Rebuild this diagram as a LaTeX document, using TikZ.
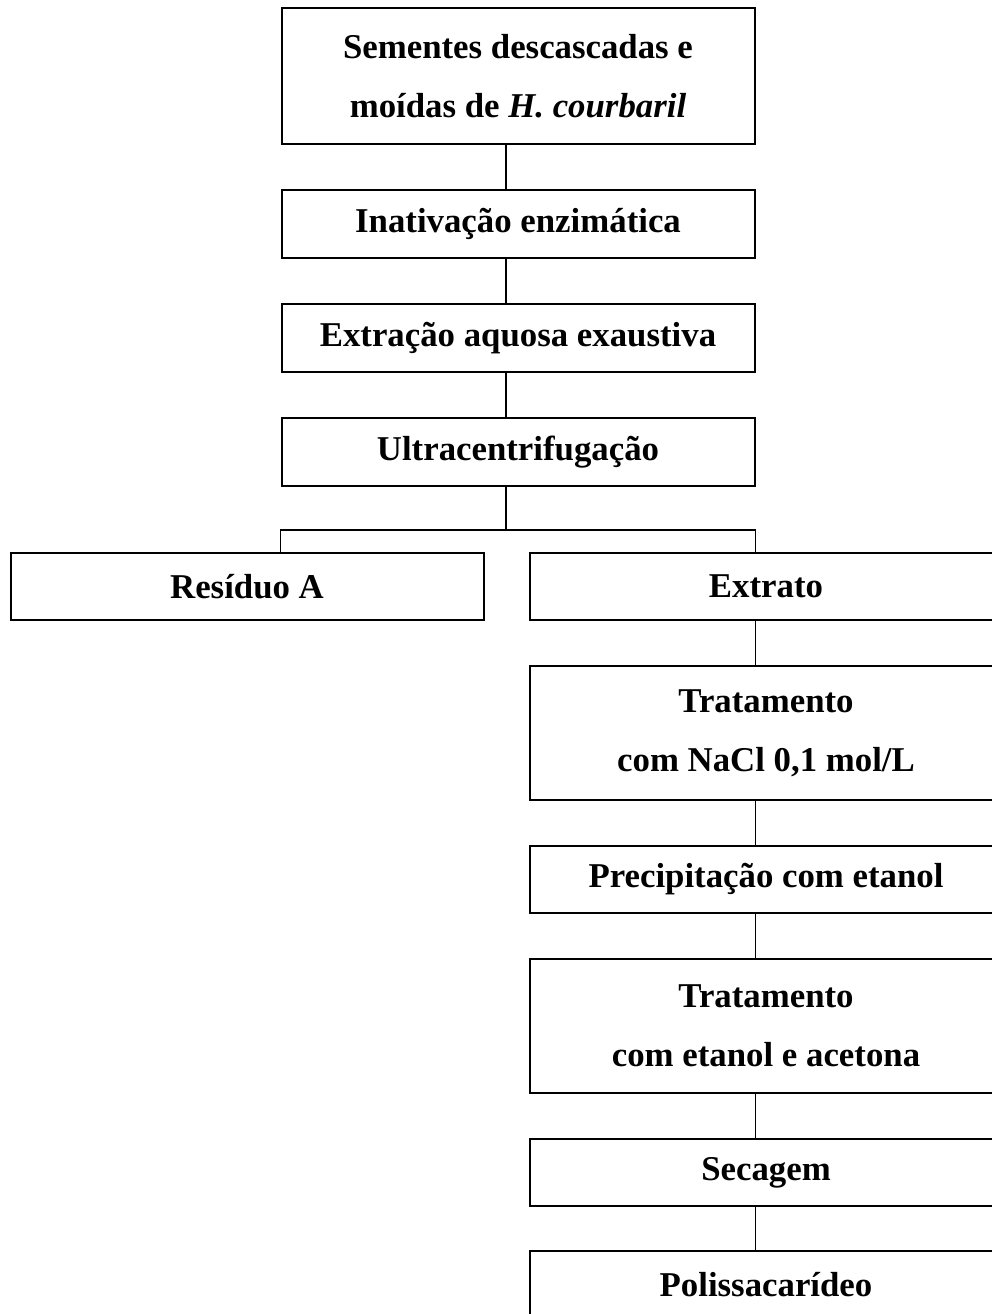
\documentclass[tikz,border=0pt]{standalone}
\usepackage{fontspec}
\setmainfont{Liberation Serif}
\usetikzlibrary{calc}
\tikzset{
  stepbox/.style={draw,line width=1pt,minimum width=236.5pt,align=center,
        font=\bfseries\fontsize{17.4}{29.5}\selectfont,inner sep=0pt},
  link/.style={line width=0.7pt}
}

\begin{document}
\begin{tikzpicture}[x=0.5pt,y=-0.5pt]
  \path[use as bounding box,clip] (0,0) rectangle (992,1314);
  % upper column
  \node[stepbox,minimum height=68pt] (seeds) at (518,76) {Sementes descascadas e\\moídas de \textit{H. courbaril}};
  \node[stepbox,minimum height=34pt] (inat) at (518,224) {Inativação enzimática};
  \node[stepbox,minimum height=34pt] (extr) at (518,338) {Extração aquosa exaustiva};
  \node[stepbox,minimum height=34pt] (ultra) at (518,452) {Ultracentrifugação};
  % split
  \node[stepbox,minimum height=33.5pt] (resA) at (247,586.5) {Resíduo A};
  \node[stepbox,minimum height=33.5pt] (extrato) at (766,586.5) {Extrato};
  % right column
  \node[stepbox,minimum height=67pt] (nacl) at (766,733) {Tratamento\\com NaCl 0,1 mol/L};
  \node[stepbox,minimum height=33.5pt] (precip) at (766,879.5) {Precipitação com etanol};
  \node[stepbox,minimum height=67pt] (etac) at (766,1026) {Tratamento\\com etanol e acetona};
  \node[stepbox,minimum height=33.5pt] (sec) at (766,1172.5) {Secagem};
  \node[stepbox,minimum height=33.5pt] (poli) at (766,1284.5) {Polissacarídeo};

  \coordinate (spine) at (506,0);
  \coordinate (rspine) at (seeds.east);
  \draw[link] (seeds.south -| spine) -- (inat.north -| spine);
  \draw[link] (inat.south -| spine) -- (extr.north -| spine);
  \draw[link] (extr.south -| spine) -- (ultra.north -| spine);
  \draw[link] (ultra.south -| spine) -- ++(0,43) coordinate (fork);
  \draw[link] (resA.north -| ultra.west) |- (fork) -| (extrato.north -| ultra.east);
  \draw[link] (extrato.south -| rspine) -- (nacl.north -| rspine);
  \draw[link] (nacl.south -| rspine) -- (precip.north -| rspine);
  \draw[link] (precip.south -| rspine) -- (etac.north -| rspine);
  \draw[link] (etac.south -| rspine) -- (sec.north -| rspine);
  \draw[link] (sec.south -| rspine) -- (poli.north -| rspine);
\end{tikzpicture}
\end{document}
